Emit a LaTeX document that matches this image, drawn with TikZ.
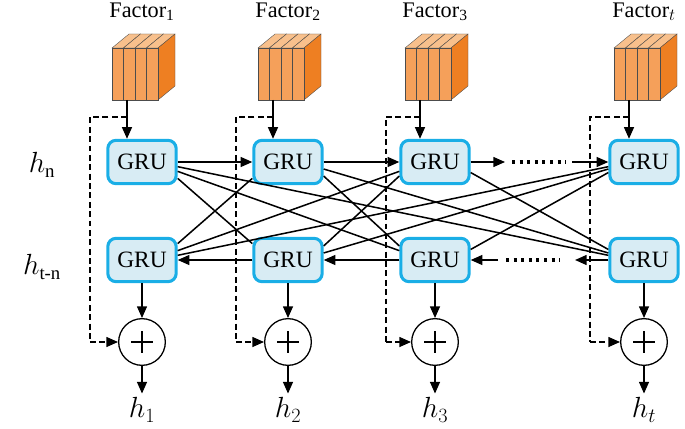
\documentclass[tikz,border=0pt]{standalone}
\usepackage{fontspec}
\setmainfont{Liberation Serif}
\usetikzlibrary{arrows.meta,calc}
\definecolor{gruB}{HTML}{1AAEE6}
\definecolor{gruF}{HTML}{D8ECF4}
\definecolor{orL}{HTML}{F5A05A}
\definecolor{orT}{HTML}{F8C08C}
\definecolor{orD}{HTML}{EE7F22}
\begin{document}
\begin{tikzpicture}[x=0.03cm,y=-0.03cm,
 gru/.style={draw=gruB,fill=gruF,line width=2.6pt,rounded corners=7pt,inner sep=0pt,minimum width=2.05cm,minimum height=1.3cm,font=\fontsize{20}{24}\selectfont},
 sum/.style={circle,draw,line width=1.1pt,minimum size=1.4cm,inner sep=0pt},
 lab/.style={font=\fontsize{19}{22}\selectfont},
 hl/.style={font=\fontsize{23}{26}\selectfont},
 arr/.style={-{Triangle[length=10pt,width=8.5pt]},line width=1.3pt},
 ln/.style={line width=1.3pt},
 dsh/.style={line width=1.3pt,dash pattern=on 5pt off 3pt}]
\useasboundingbox (0,0) rectangle (685,429);
\def\slab#1#2{%
 \fill[orT,draw=black!70,line width=0.3pt] (#1,#2) -- ++(17,-14) -- ++(11.5,0) -- ++(-17,14) -- cycle;
 \fill[orD,draw=black!70,line width=0.3pt] (#1+11.5,#2) -- ++(17,-14) -- ++(0,52) -- ++(-17,14) -- cycle;
 \fill[orL,draw=black!70,line width=0.3pt] (#1,#2) rectangle ++(11.5,52);}
\foreach \i/\x/\dx/\lab in {1/142/90/1,2/288/236/2,3/435/386/3,4/644/590/t}{
 \node[gru] (t\i) at (\x,162) {GRU};
 \node[gru] (b\i) at (\x,260) {GRU};
 \node[sum] (c\i) at (\x,342) {};
 \draw[line width=1.6pt] ([xshift=-9pt]c\i.center) -- ([xshift=9pt]c\i.center) ([yshift=-9pt]c\i.center) -- ([yshift=9pt]c\i.center);
 \coordinate (fb\i) at (\x-15,100);
 \coordinate (fa\i) at (\x-15,117);
 \coordinate (d\i) at (\dx,117);
 \coordinate (e\i) at (\dx,342);
 \foreach \k in {0,1,2,3}{\slab{\x-30+11.5*\k}{48}}
 \draw[arr] (fb\i) -- (fb\i|-t\i.north);
 \draw[dsh] (fa\i) -- (d\i) -- (e\i);
 \draw[dsh,-{Triangle[length=10pt,width=8.5pt]}] (e\i) -- (c\i.west);
 \draw[arr] (b\i) -- (c\i);
 \node[hl] (h\i) at (\x,410) {$h_{\lab}$};
 \draw[arr] (c\i.south) -- (h\i.north);
}
\node[lab] (f1) at (142,12) {Factor$_{\mathrm{1}}$};
\node[lab] (f2) at (288,12) {Factor$_{\mathrm{2}}$};
\node[lab] (f3) at (435,12) {Factor$_{\mathrm{3}}$};
\node[lab] (f4) at (644,12) {Factor$_{t}$};
\node[hl] (rn) at (42,165) {$h_{\mathrm{n}}$};
\node[hl] (rt) at (42,267) {$h_{\mbox{\fontsize{16}{18}\selectfont t-n}}$};
\draw[arr] (t1) -- (t2);
\draw[arr] (t2) -- (t3);
\coordinate (ta) at (505,162); \coordinate (tb) at (572,162);
\draw[arr] (t3) -- (ta);
\draw[arr] (tb) -- (t4);
\draw[line width=2.8pt,dash pattern=on 2.5pt off 4pt] (512,162) -- (566,162);
\draw[arr] (b2) -- (b1);
\draw[arr] (b3) -- (b2);
\coordinate (ba) at (498,260); \coordinate (bb) at (575,260);
\draw[arr] (ba) -- (b3);
\draw[arr] (b4) -- (bb);
\draw[line width=2.8pt,dash pattern=on 2.5pt off 4pt] (506,260) -- (560,260);
\foreach \i/\j/\o in {1/2/14,1/3/8,1/4/4,2/3/12,2/4/6,3/4/9}{
 \draw[ln] ([yshift=-\o pt]t\i.east) -- ([yshift=\o pt]b\j.west);
 \draw[ln] ([yshift=\o pt]b\i.east) -- ([yshift=-\o pt]t\j.west);
}
\end{tikzpicture}
\end{document}
